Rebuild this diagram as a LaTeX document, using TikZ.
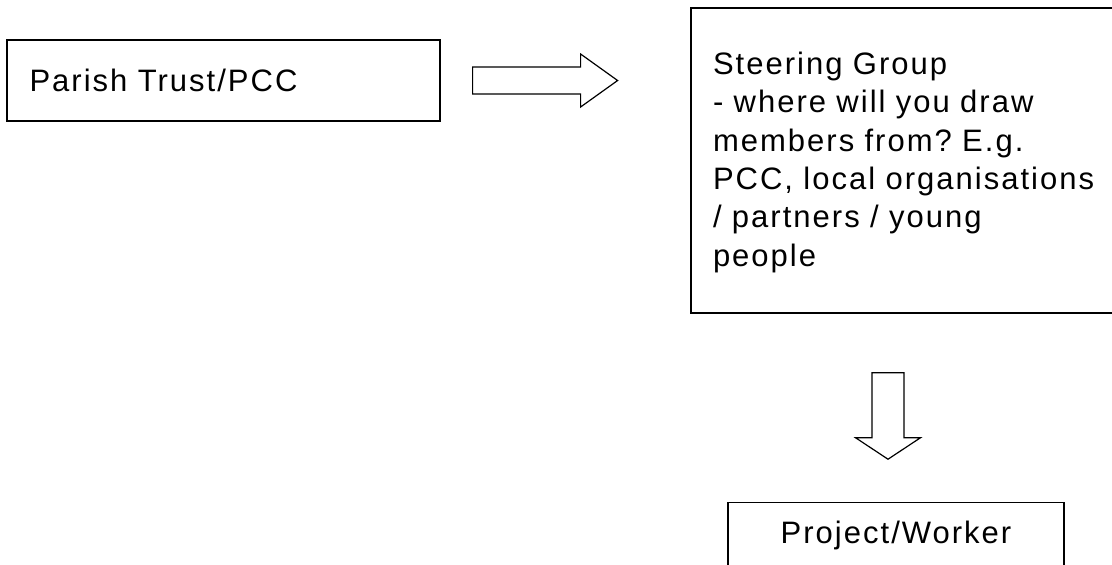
\documentclass[tikz,border=0pt]{standalone}
\usepackage{fontspec}
\setmainfont{Liberation Sans}[LetterSpace=6.5]
\usetikzlibrary{positioning, calc}
\frenchspacing

\tikzset{
	box/.style={draw, line width=0.6pt, inner xsep=11pt, inner ysep=0pt},
	blockarrow/.style={draw, line width=0.6pt, line join=miter}
}

\begin{document}
\begin{tikzpicture}[x=0.5pt, y=-0.5pt, font=\fontsize{15.5}{19.15}\selectfont]

		\useasboundingbox (0,0) rectangle (1112,564);
		\clip (0,0) rectangle (1112,564);

		% Boxes
		\node[box, minimum width=216.5pt, minimum height=40.5pt, text width=194pt, align=left] (trust) at (223.5,80.5) {Parish Trust/PCC};
		\node[box, minimum width=225pt, minimum height=152.5pt, text width=203pt, align=left] (steer) at (916,160.5)
			{\rule{0pt}{13pt}Steering Group\\- where will you draw\\members from? E.g.\\PCC, local organisations\\/ partners / young\\people};
		\node[box, minimum width=168pt, minimum height=32.5pt, align=center] (proj) at (896,535) {Project/Worker};

		% Block arrows
		\coordinate (RA) at ([xshift=16pt] trust.east);
		\draw[blockarrow] (RA) ++(0,-13.5) -- ++(108,0) -- ++(0,-13) -- ++(37,26.5) -- ++(-37,26.5)
			-- ++(0,-13) -- ++(-108,0) -- cycle;

		\coordinate (DA) at (888,372.7);
		\draw[blockarrow] (DA) ++(-16,0) -- ++(32,0) -- ++(0,65) -- ++(16.5,0) -- ++(-32.5,21.5)
			-- ++(-32.5,-21.5) -- ++(16.5,0) -- cycle;

	\end{tikzpicture}
\end{document}
